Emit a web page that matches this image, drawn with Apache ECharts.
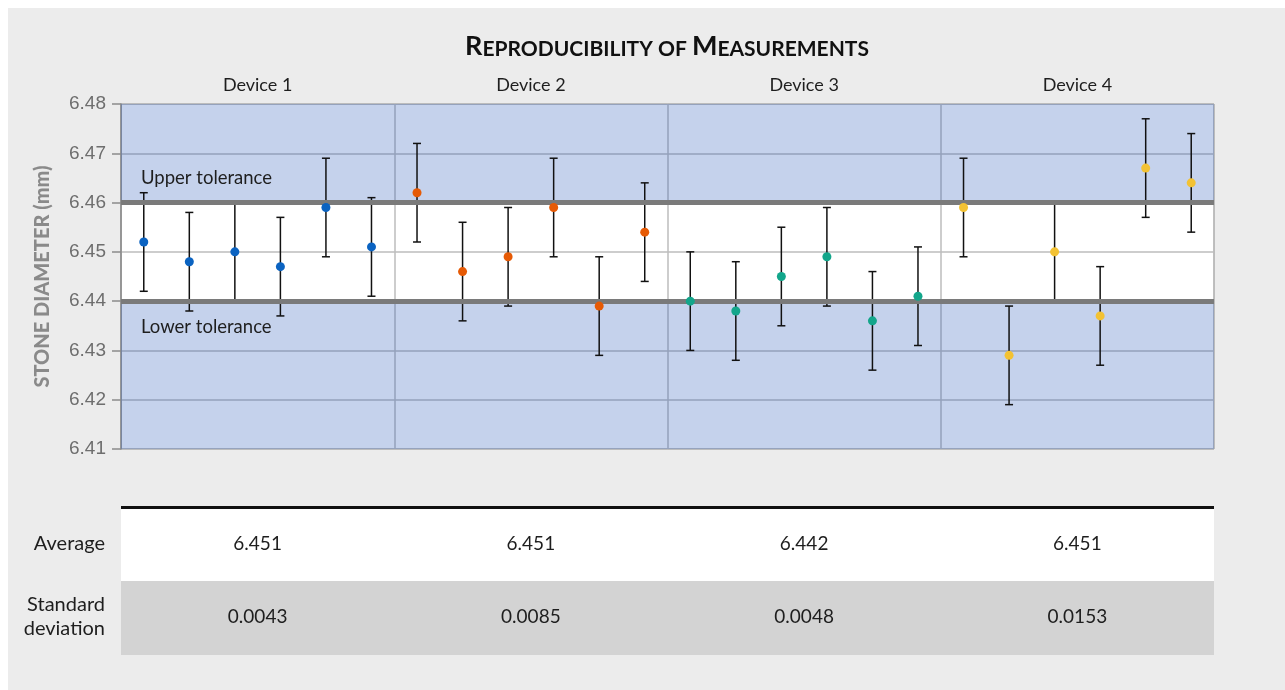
<!DOCTYPE html>
<html>
<head>
<meta charset="utf-8">
<script src="https://cdn.jsdelivr.net/npm/echarts@6/dist/echarts.min.js"></script>
<style>
  html, body { margin: 0; padding: 0; background: #ffffff; }
  #chart { position: absolute; left: 8px; top: 8px; width: 1277px; height: 682px; background: #ececec; }
</style>
</head>
<body>
<div id="chart"></div>
<script>
// ---------------- data ----------------
const devices = ['Device 1', 'Device 2', 'Device 3', 'Device 4'];
const runs = ['1', '2', '3', '4', '5', '6'];
const device1 = [6.452, 6.448, 6.450, 6.447, 6.459, 6.451];
const device2 = [6.462, 6.446, 6.449, 6.459, 6.439, 6.454];
const device3 = [6.440, 6.438, 6.445, 6.449, 6.436, 6.441];
const device4 = [6.459, 6.429, 6.450, 6.437, 6.467, 6.464];
const measurementError = 0.01;
const upperTolerance = 6.46;
const lowerTolerance = 6.44;
const yMin = 6.41, yMax = 6.48, yStep = 0.01;
const averages = ['6.451', '6.451', '6.442', '6.451'];
const stdDevs = ['0.0043', '0.0085', '0.0048', '0.0153'];
const rowLabels = ['Average', 'Standard\ndeviation'];

// ---------------- layout / style ----------------
const colors = ['#0b63c1', '#e65a05', '#13a68b', '#f3c233'];
const G = { left: 113, top: 96, width: 1093, height: 345 };
const FONT = 'Lato, "Open Sans", sans-serif';

const allSeries = [device1, device2, device3, device4];
const slots = [];
devices.forEach((d, di) => runs.forEach(r => slots.push(d + ' #' + r)));

const pointSeries = allSeries.map((vals, di) => ({
  type: 'scatter',
  name: devices[di],
  xAxisIndex: 0,
  z: 5,
  symbolSize: 9,
  itemStyle: { color: colors[di], opacity: 1 },
  data: vals.map((v, i) => [slots[di * runs.length + i], v])
}));

const errData = [];
allSeries.forEach((vals, di) => vals.forEach((v, i) => {
  errData.push([di * runs.length + i, v - measurementError, v + measurementError]);
}));

const errorSeries = {
  type: 'custom',
  xAxisIndex: 0,
  z: 4,
  silent: true,
  data: errData,
  renderItem: function (params, api) {
    const x = api.value(0);
    const lo = api.coord([x, api.value(1)]);
    const hi = api.coord([x, api.value(2)]);
    const w = 4;
    const st = { stroke: '#111', lineWidth: 1.5 };
    return {
      type: 'group',
      children: [
        { type: 'line', shape: { x1: lo[0], y1: lo[1], x2: hi[0], y2: hi[1] }, style: st },
        { type: 'line', shape: { x1: lo[0] - w, y1: lo[1], x2: lo[0] + w, y2: lo[1] }, style: st },
        { type: 'line', shape: { x1: hi[0] - w, y1: hi[1], x2: hi[0] + w, y2: hi[1] }, style: st }
      ]
    };
  }
};

const bandSeries = {
  type: 'line',
  xAxisIndex: 0,
  data: [],
  z: 2,
  silent: true,
  markArea: {
    silent: true,
    itemStyle: { color: 'rgba(40,90,185,0.27)' },
    data: [
      [{ yAxis: upperTolerance }, { yAxis: yMax }],
      [{ yAxis: yMin }, { yAxis: lowerTolerance }]
    ]
  },
  markLine: {
    silent: true,
    symbol: 'none',
    label: { show: false },
    lineStyle: { color: '#7a7a7a', width: 5, type: 'solid' },
    data: [{ yAxis: upperTolerance }, { yAxis: lowerTolerance }]
  }
};

// table geometry
const tableTop = 498;
const colW = G.width / devices.length;
const TF = '19px ' + FONT;
const tableEls = [
  { type: 'rect', shape: { x: G.left, y: tableTop, width: G.width, height: 3 }, style: { fill: '#111' } },
  { type: 'rect', shape: { x: G.left, y: tableTop + 3, width: G.width, height: 72 }, style: { fill: '#ffffff' } },
  { type: 'rect', shape: { x: G.left, y: tableTop + 75, width: G.width, height: 74 }, style: { fill: '#d3d3d3' } },
  { type: 'text', x: 97, y: tableTop + 38, style: { text: rowLabels[0], fill: '#1e1e1e', font: '20px ' + FONT, align: 'right', verticalAlign: 'middle' } },
  { type: 'text', x: 97, y: tableTop + 111, style: { text: rowLabels[1], fill: '#1e1e1e', font: '20px ' + FONT, align: 'right', verticalAlign: 'middle', lineHeight: 24 } }
];
devices.forEach((d, i) => {
  const cx = G.left + colW * (i + 0.5);
  tableEls.push({ type: 'text', x: cx, y: tableTop + 38, style: { text: averages[i], fill: '#1e1e1e', font: TF, align: 'center', verticalAlign: 'middle' } });
  tableEls.push({ type: 'text', x: cx, y: tableTop + 111, style: { text: stdDevs[i], fill: '#1e1e1e', font: TF, align: 'center', verticalAlign: 'middle' } });
});

const chart = echarts.init(document.getElementById('chart'));
chart.setOption({
  backgroundColor: '#ececec',
  animation: false,
  grid: {
    left: G.left, top: G.top, width: G.width, height: G.height,
    show: true, backgroundColor: '#ffffff', borderColor: '#8a8a8a', borderWidth: 1
  },
  xAxis: [
    {
      type: 'category', data: slots, position: 'bottom', show: false, boundaryGap: true
    },
    {
      type: 'category', data: devices, position: 'top', boundaryGap: true,
      axisLine: { show: false }, axisTick: { show: false },
      axisLabel: { color: '#1e1e1e', fontSize: 18, fontFamily: FONT, margin: 10 },
      splitLine: { show: true, interval: 0, lineStyle: { color: '#bcbcbc', width: 1.5 } }
    }
  ],
  yAxis: {
    type: 'value', min: yMin, max: yMax, interval: yStep,
    name: 'STONE DIAMETER (mm)', nameLocation: 'middle', nameGap: 68,
    nameTextStyle: { color: '#8a8a8a', fontSize: 20, fontWeight: 900, fontFamily: FONT },
    axisLine: { show: true, lineStyle: { color: '#8a8a8a', width: 1.5 } },
    axisTick: { show: true, length: 9, lineStyle: { color: '#8a8a8a', width: 1.5 } },
    axisLabel: {
      color: '#6e6e6e', fontSize: 19, fontFamily: '"Liberation Sans", Arial, sans-serif', margin: 15,
      formatter: v => v.toFixed(2)
    },
    splitLine: { show: true, lineStyle: { color: '#bcbcbc', width: 1.5 } }
  },
  series: [bandSeries, errorSeries].concat(pointSeries),
  graphic: [
    {
      type: 'text', x: 659, y: 37,
      style: {
        text: '{b|R}{s|EPRODUCIBILITY OF }{b|M}{s|EASUREMENTS}',
        align: 'center', verticalAlign: 'middle',
        rich: {
          b: { fontSize: 27, fontWeight: 'bold', fontFamily: FONT, fill: '#111', verticalAlign: 'bottom', lineHeight: 30 },
          s: { fontSize: 21, fontWeight: 'bold', fontFamily: FONT, fill: '#111', verticalAlign: 'bottom', lineHeight: 30 }
        }
      }
    },
    { type: 'text', x: 133, y: 170, z: 10, style: { text: 'Upper tolerance', fill: '#1e1e1e', font: '18.5px ' + FONT, align: 'left', verticalAlign: 'middle' } },
    { type: 'text', x: 133, y: 319, z: 10, style: { text: 'Lower tolerance', fill: '#1e1e1e', font: '18.5px ' + FONT, align: 'left', verticalAlign: 'middle' } }
  ].concat(tableEls)
});
</script>
</body>
</html>
